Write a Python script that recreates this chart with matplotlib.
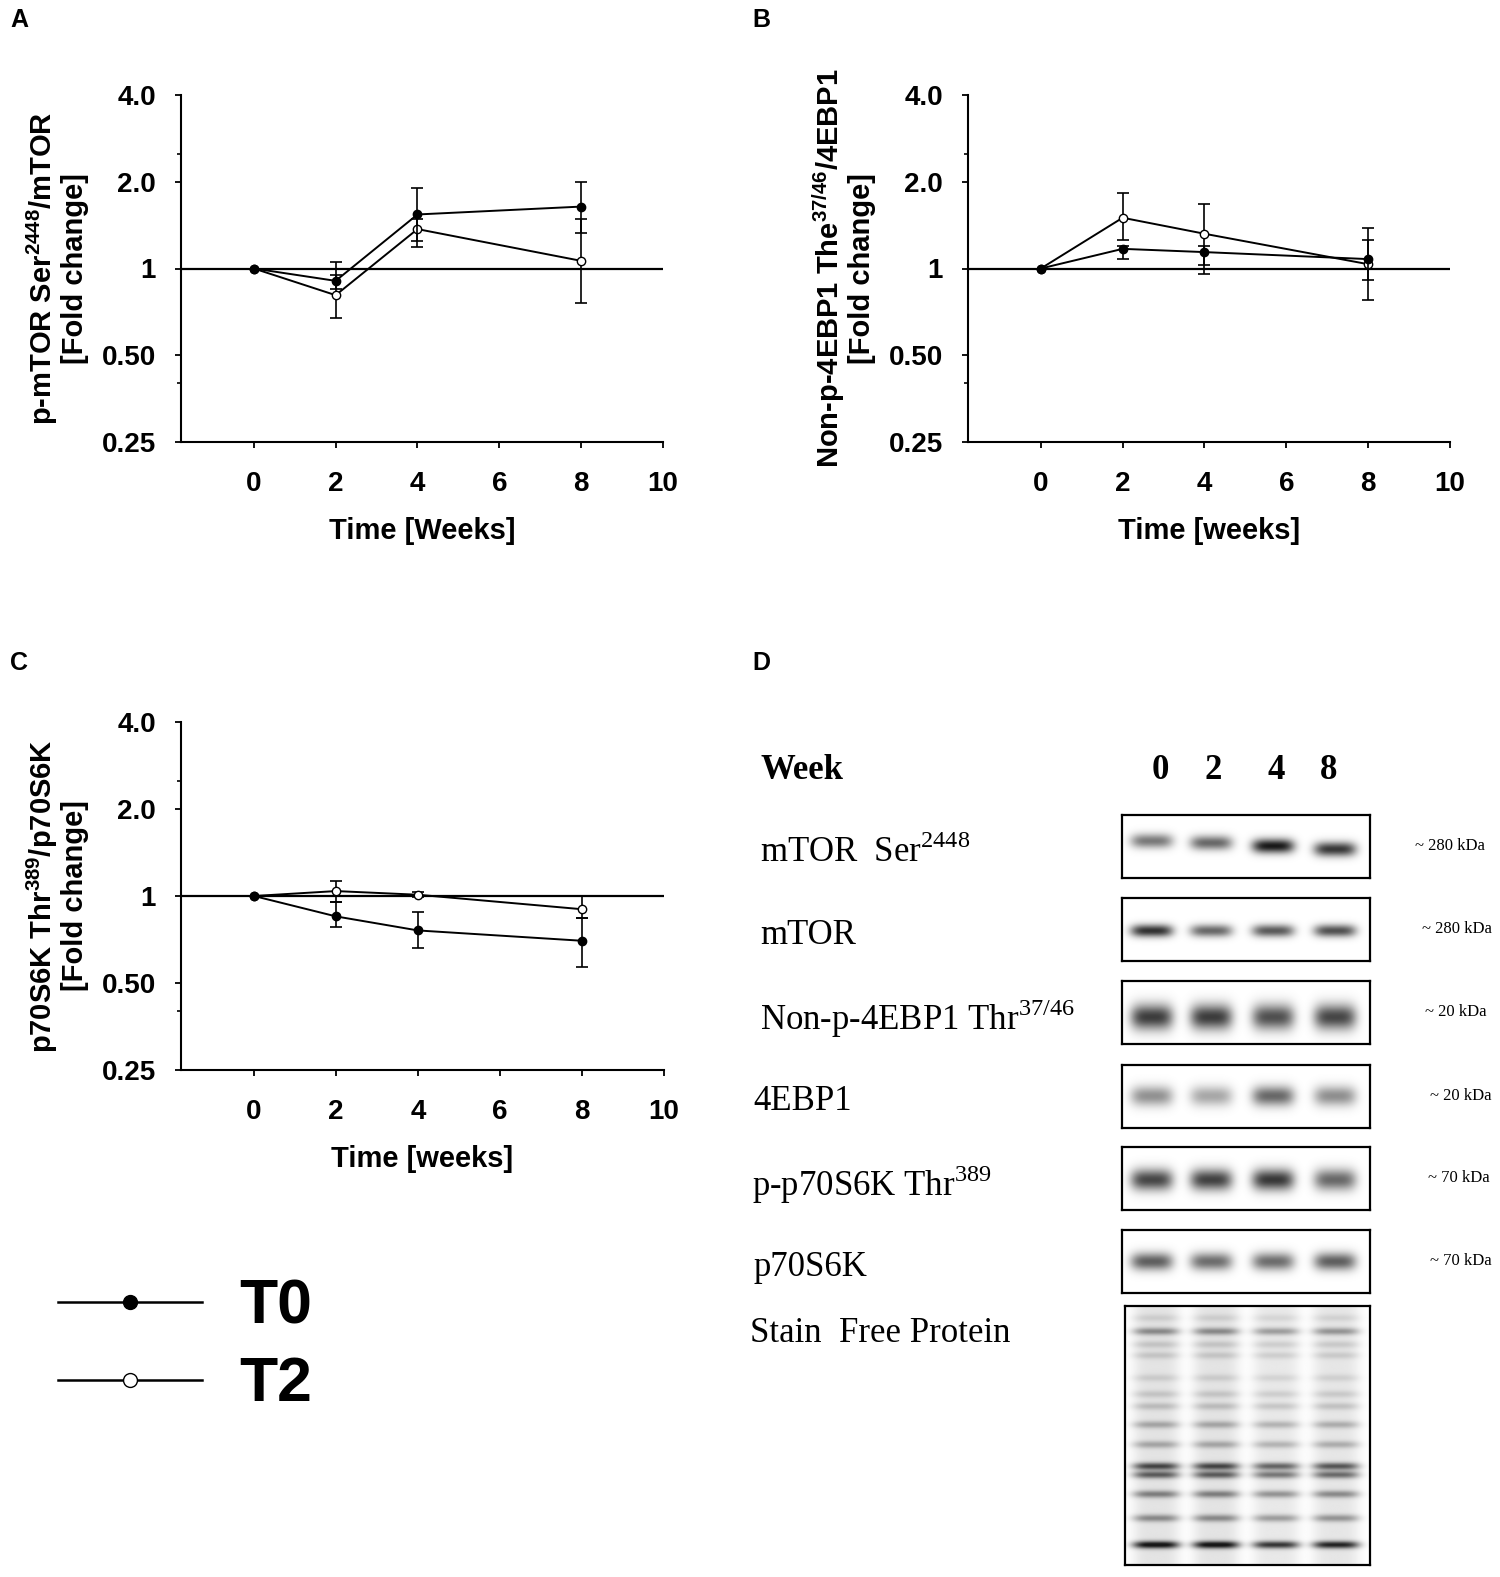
import numpy as np
import matplotlib
matplotlib.use("Agg")
import matplotlib.pyplot as plt
from matplotlib.lines import Line2D
from matplotlib.ticker import NullFormatter

# %% Data
weeks = np.array([0, 2, 4, 8])

# A: p-mTOR Ser2448 / mTOR
a_t0 = np.array([1.0, 0.906, 1.54, 1.64])
a_t0_lo = np.array([1.0, 0.85, 1.25, 1.33])
a_t0_hi = np.array([1.0, 1.05, 1.90, 2.00])
a_t2 = np.array([1.0, 0.808, 1.37, 1.063])
a_t2_lo = np.array([1.0, 0.676, 1.19, 0.76])
a_t2_hi = np.array([1.0, 0.95, 1.48, 1.48])

# B: Non-p-4EBP1 Thr37/46 / 4EBP1
b_t0 = np.array([1.0, 1.17, 1.14, 1.078])
b_t0_lo = np.array([1.0, 1.08, 0.96, 0.91])
b_t0_hi = np.array([1.0, 1.20, 1.20, 1.26])
b_t2 = np.array([1.0, 1.50, 1.32, 1.035])
b_t2_lo = np.array([1.0, 1.26, 1.03, 0.78])
b_t2_hi = np.array([1.0, 1.83, 1.68, 1.38])

# C: p70S6K Thr389 / p70S6K
c_t0 = np.array([1.0, 0.85, 0.76, 0.70])
c_t0_lo = np.array([1.0, 0.78, 0.66, 0.57])
c_t0_hi = np.array([1.0, 0.95, 0.88, 0.84])
c_t2 = np.array([1.0, 1.04, 1.01, 0.90])
c_t2_lo = np.array([1.0, 0.953, 0.99, 0.84])
c_t2_hi = np.array([1.0, 1.13, 1.03, 1.00])

y_ticks = [0.25, 0.5, 1, 2, 4]
y_ticklabels = ["0.25", "0.50", "1", "2.0", "4.0"]
x_ticks = [0, 2, 4, 6, 8, 10]

# D: western blots, band darkness per lane (weeks 0, 2, 4, 8)
lanes = ["0", "2", "4", "8"]
blot_names = [r"mTOR  Ser$^{\mathrm{2448}}$", "mTOR",
              r"Non-p-4EBP1 Thr$^{\mathrm{37/46}}$", "4EBP1",
              r"p-p70S6K Thr$^{\mathrm{389}}$", "p70S6K"]
blot_kda = ["~ 280 kDa", "~ 280 kDa", "~ 20 kDa", "~ 20 kDa", "~ 70 kDa", "~ 70 kDa"]
blot_dark = [[0.55, 0.62, 0.95, 0.82],
             [0.85, 0.62, 0.68, 0.72],
             [0.80, 0.80, 0.72, 0.76],
             [0.45, 0.36, 0.62, 0.46],
             [0.76, 0.78, 0.82, 0.62],
             [0.66, 0.60, 0.60, 0.66]]
stain_band_pos = [0.045, 0.097, 0.148, 0.19, 0.277, 0.34, 0.387, 0.458,
                  0.535, 0.619, 0.652, 0.727, 0.82, 0.923]
stain_band_dark = [0.10, 0.40, 0.14, 0.14, 0.11, 0.14, 0.18, 0.28,
                   0.28, 0.70, 0.60, 0.45, 0.40, 0.95]
stain_lane_mult = [1.0, 1.0, 0.82, 0.9]

# %% Style
plt.rcParams["font.family"] = ["Liberation Sans", "DejaVu Sans"]
plt.rcParams["mathtext.fontset"] = "custom"
plt.rcParams["mathtext.rm"] = "Liberation Serif"
plt.rcParams["mathtext.bf"] = "Liberation Sans:bold"

W, H = 1500, 1577
fig = plt.figure(figsize=(W / 100, H / 100), dpi=100)


def rect(x0, y0, x1, y1):
    return [x0 / W, 1 - y1 / H, (x1 - x0) / W, (y1 - y0) / H]


def line_panel(box, t0, t0lo, t0hi, t2, t2lo, t2hi, ylabel, xlabel):
    ax = fig.add_axes(rect(*box))
    ax.set_yscale("log", base=2)
    ax.set_ylim(0.25, 4)
    ax.set_xlim(-1.78, 10)
    ax.axhline(1, color="k", lw=1.6, zorder=1)
    ax.errorbar(weeks, t2, yerr=[t2 - t2lo, t2hi - t2], fmt="-o", color="k",
                mfc="white", mec="k", ms=6, lw=1.4, elinewidth=1.2,
                capsize=4, capthick=1.2, zorder=3)
    ax.errorbar(weeks, t0, yerr=[t0 - t0lo, t0hi - t0], fmt="-o", color="k",
                mfc="k", mec="k", ms=6, lw=1.4, elinewidth=1.2,
                capsize=4, capthick=1.2, zorder=4)
    ax.set_yticks(y_ticks)
    ax.set_yticklabels(y_ticklabels)
    ax.set_yticks([0.4, 2.5], minor=True)
    ax.yaxis.set_minor_formatter(NullFormatter())
    ax.set_xticks(x_ticks)
    ax.tick_params(axis="both", which="major", length=4, width=1.3,
                   labelsize=20)
    ax.tick_params(axis="y", which="major", pad=14)
    ax.tick_params(axis="x", which="major", pad=17)
    ax.tick_params(axis="y", which="minor", length=3, width=1.2)
    for lab in ax.get_xticklabels() + ax.get_yticklabels():
        lab.set_fontweight("bold")
    for s in ["top", "right"]:
        ax.spines[s].set_visible(False)
    for s in ["left", "bottom"]:
        ax.spines[s].set_linewidth(1.5)
    ax.set_xlabel(xlabel, fontsize=21, fontweight="bold", labelpad=14)
    ax.set_ylabel(ylabel, fontsize=21, fontweight="bold", linespacing=1.05)
    ax.yaxis.set_label_coords(-0.19, 0.5)
    return ax


line_panel((181, 95, 663, 442), a_t0, a_t0_lo, a_t0_hi, a_t2, a_t2_lo, a_t2_hi,
           "p-mTOR Ser$^{\\mathbf{2448}}$/mTOR\n[Fold change]", "Time [Weeks]")
line_panel((968, 95, 1450, 442), b_t0, b_t0_lo, b_t0_hi, b_t2, b_t2_lo, b_t2_hi,
           "Non-p-4EBP1 The$^{\\mathbf{37/46}}$/4EBP1\n[Fold change]",
           "Time [weeks]")
line_panel((181, 722, 664, 1070), c_t0, c_t0_lo, c_t0_hi, c_t2, c_t2_lo, c_t2_hi,
           "p70S6K Thr$^{\\mathbf{389}}$/p70S6K\n[Fold change]", "Time [weeks]")

# panel letters
for letter, (px, py) in zip("ABCD", [(10, 20), (752, 20), (10, 663), (752, 663)]):
    fig.text(px / W, 1 - py / H, letter, fontsize=18, fontweight="bold",
             ha="left", va="center")

# legend
h_t0 = Line2D([], [], color="k", lw=1.8, marker="o", ms=10, mfc="k")
h_t2 = Line2D([], [], color="k", lw=1.8, marker="o", ms=10, mfc="white")
fig.legend([h_t0, h_t2], ["T0", "T2"], loc="center left",
           bbox_to_anchor=(2 / W, 1 - 1346 / H), frameon=False,
           prop={"size": 45, "weight": "bold"}, handlelength=2.3,
           handletextpad=0.6, labelspacing=0.3)

# %% Panel D: blots
lane_x = np.array([0.12, 0.36, 0.61, 0.86])
lane_w = 0.085
serif = ["Liberation Serif", "DejaVu Serif"]

fig.text(760 / W, 1 - 770 / H, "Week", fontsize=25, fontweight="bold",
         family=serif, ha="left", va="center")
for lab, px in zip(lanes, [1160, 1213, 1276, 1329]):
    fig.text(px / W, 1 - 770 / H, lab, fontsize=25, fontweight="bold",
             family=serif, ha="center", va="center")

box_tops = [815, 898, 981, 1065, 1147, 1230]
band_y = [[0.42, 0.45, 0.50, 0.55], [0.52] * 4, [0.58] * 4,
          [0.50] * 4, [0.52] * 4, [0.50] * 4]
band_sig = [0.08, 0.07, 0.14, 0.11, 0.12, 0.10]
label_x = [760, 760, 760, 753, 752, 753]
label_dy = [38, 38, 38, 36, 38, 38]
kda_x = [1415, 1422, 1425, 1430, 1428, 1430]

xx = np.linspace(0, 1, 500)
yy = np.linspace(0, 1, 120)
for i in range(6):
    top = box_tops[i]
    ax = fig.add_axes(rect(1122, top, 1370, top + 63))
    img = np.zeros((yy.size, xx.size))
    for j in range(4):
        gx = np.exp(-((xx - lane_x[j]) / lane_w) ** 4)
        gy = np.exp(-0.5 * ((yy - band_y[i][j]) / band_sig[i]) ** 2)
        img += blot_dark[i][j] * np.outer(gy, gx)
    ax.imshow(np.clip(img, 0, 1), cmap="gray_r", vmin=0, vmax=1.05,
              aspect="auto", extent=(0, 1, 1, 0), interpolation="bilinear")
    ax.set_xticks([])
    ax.set_yticks([])
    for s in ax.spines.values():
        s.set_linewidth(1.6)
    fig.text(label_x[i] / W, 1 - (top + label_dy[i]) / H, blot_names[i],
             fontsize=25, family=serif, ha="left", va="center")
    fig.text(kda_x[i] / W, 1 - (top + 31) / H, blot_kda[i], fontsize=12,
             family=serif, ha="left", va="center")

# stain free total protein
ax = fig.add_axes(rect(1125, 1306, 1370, 1565))
yy2 = np.linspace(0, 1, 400)
img = np.zeros((yy2.size, xx.size))
for j in range(4):
    gx = np.exp(-((xx - (0.127 + 0.245 * j)) / 0.095) ** 4)
    prof = 0.12 * np.ones_like(yy2)
    for p, d in zip(stain_band_pos, stain_band_dark):
        prof += d * np.exp(-0.5 * ((yy2 - p) / 0.010) ** 2)
    img += stain_lane_mult[j] * np.outer(prof, gx)
ax.imshow(np.clip(img, 0, 1), cmap="gray_r", vmin=0, vmax=1.1, aspect="auto",
          extent=(0, 1, 1, 0), interpolation="bilinear")
ax.set_xticks([])
ax.set_yticks([])
for s in ax.spines.values():
    s.set_linewidth(1.6)
fig.text(750 / W, 1 - 1334 / H, "Stain  Free Protein", fontsize=25,
         family=serif, ha="left", va="center")

fig.savefig("out.png", dpi=100, facecolor="white")
